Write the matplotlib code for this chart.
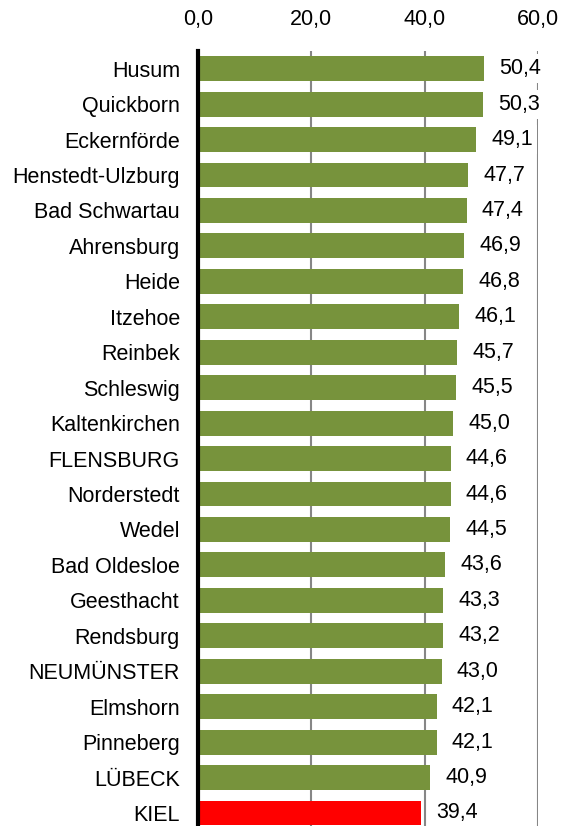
import matplotlib
matplotlib.use("Agg")
import matplotlib.pyplot as plt

plt.rcParams['font.family'] = ['Liberation Sans', 'DejaVu Sans']

staedte = ["Husum", "Quickborn", "Eckernförde", "Henstedt-Ulzburg", "Bad Schwartau",
           "Ahrensburg", "Heide", "Itzehoe", "Reinbek", "Schleswig", "Kaltenkirchen",
           "FLENSBURG", "Norderstedt", "Wedel", "Bad Oldesloe", "Geesthacht",
           "Rendsburg", "NEUMÜNSTER", "Elmshorn", "Pinneberg", "LÜBECK", "KIEL"]
werte = [50.4, 50.3, 49.1, 47.7, 47.4, 46.9, 46.8, 46.1, 45.7, 45.5, 45.0,
         44.6, 44.6, 44.5, 43.6, 43.3, 43.2, 43.0, 42.1, 42.1, 40.9, 39.4]
ticks = [0, 20, 40, 60]

gruen = "#77933C"
rot = "#FF0000"
farben = [rot if s == "KIEL" else gruen for s in staedte]

fig = plt.figure(figsize=(5.65, 8.26), dpi=100)
ax = fig.add_axes([0.3504, -0.0057, 0.6018, 0.944])

y = list(range(len(staedte)))
ax.barh(y, werte, height=0.7, color=farben, zorder=2)

ax.set_ylim(len(staedte) - 0.5, -0.5)
ax.set_xlim(0, 60)
ax.set_yticks(y)
ax.set_yticklabels(staedte, fontsize=15.5)
ax.set_xticks(ticks)
ax.set_xticklabels([f"{t:.1f}".replace(".", ",") for t in ticks], fontsize=15.5)
ax.xaxis.tick_top()
ax.tick_params(axis="x", length=0, pad=15)
ax.tick_params(axis="y", length=0, pad=13)

ax.grid(axis="x", color="#868686", linewidth=1.5, zorder=0)
for s in ["top", "right", "bottom"]:
    ax.spines[s].set_visible(False)
ax.spines["left"].set_linewidth(3)
ax.spines["left"].set_color("black")
ax.spines["left"].set_zorder(3)

# Werte rechts neben den Balken, weisser Hintergrund verdeckt die Gitterlinie
for yi, w in zip(y, werte):
    ax.annotate(f"{w:.1f}".replace(".", ","), xy=(w, yi), xytext=(11, 0),
                textcoords="offset points", va="center", ha="left",
                fontsize=15.5, zorder=4,
                bbox=dict(facecolor="white", edgecolor="none", pad=3))

fig.savefig("out.png", dpi=100)
